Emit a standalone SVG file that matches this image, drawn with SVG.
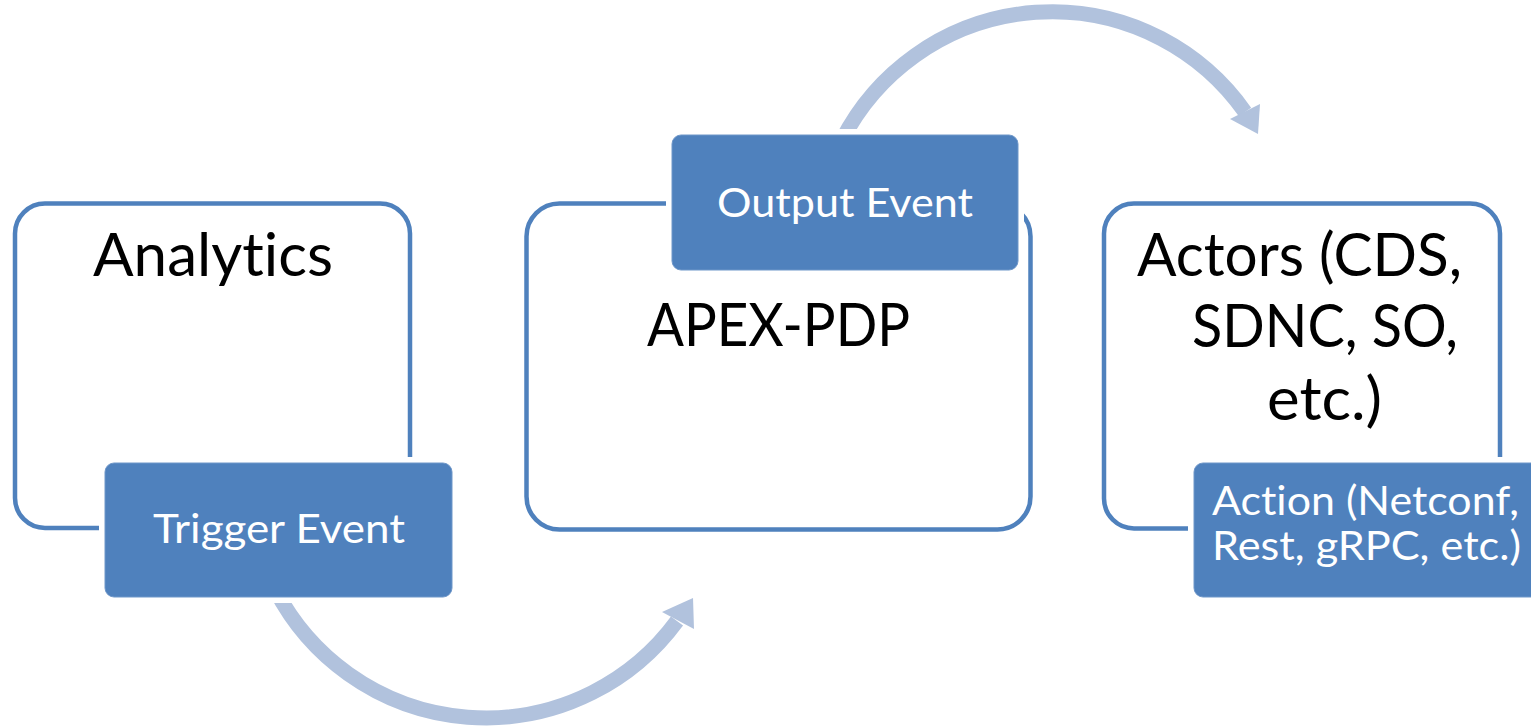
<svg xmlns="http://www.w3.org/2000/svg" width="1531" height="727" viewBox="0 0 1531 727">
<style>
.frame{fill:#ffffff;stroke:#4f81bd;stroke-width:4.5}
.tag{fill:#4f81bd;stroke:#6f97c9;stroke-width:1}
.halo{fill:#ffffff}
text{font-variant-ligatures:none;font-feature-settings:"liga" 0,"clig" 0}
.big{font-family:Lato,"Liberation Sans",sans-serif;font-size:60px;fill:#000000}
.small{font-family:Lato,"Liberation Sans",sans-serif;font-size:40px;fill:#ffffff}
.band{fill:none;stroke:#b1c2dd;stroke-width:15}
.head{fill:#b1c2dd}
</style>
<rect width="1531" height="727" fill="#ffffff"/>
<g id="connectors">
<path class="band" d="M 275.5 590 A 237 237 0 0 0 677 621"/>
<polygon class="head" points="662,612 693,598 694,629"/>
<path class="band" d="M 842 140 A 236 236 0 0 1 1245 112"/>
<polygon class="head" points="1230,119 1260,104 1258,134"/>
</g>
<g id="analytics">
<rect class="frame" x="15" y="203.5" width="395" height="324.5" rx="30"/>
<text class="big" x="93" y="276" textLength="240" lengthAdjust="spacingAndGlyphs">Analytics</text>
</g>
<g id="trigger-event">
<rect class="halo" x="99" y="457" width="359" height="146" rx="12"/>
<rect class="tag" x="105" y="463" width="347" height="134" rx="9"/>
<text class="small" x="153" y="543" textLength="252" lengthAdjust="spacingAndGlyphs">Trigger Event</text>
</g>
<g id="apex-pdp">
<rect class="frame" x="526.5" y="203.5" width="504" height="326" rx="33"/>
<text class="big" x="647" y="346" textLength="263" lengthAdjust="spacingAndGlyphs">APEX-PDP</text>
</g>
<g id="output-event">
<rect class="halo" x="666" y="129" width="358" height="147" rx="12"/>
<rect class="tag" x="672" y="135" width="346" height="135" rx="9"/>
<text class="small" x="717" y="217" textLength="256" lengthAdjust="spacingAndGlyphs">Output Event</text>
</g>
<g id="actors">
<rect class="frame" x="1104" y="203.5" width="396" height="325" rx="30"/>
<text class="big" x="1137" y="276" textLength="325" lengthAdjust="spacingAndGlyphs">Actors (CDS,</text>
<text class="big" x="1192" y="347" textLength="266" lengthAdjust="spacingAndGlyphs">SDNC, SO,</text>
<text class="big" x="1267" y="420" textLength="115" lengthAdjust="spacingAndGlyphs">etc.)</text>
</g>
<g id="action">
<rect class="halo" x="1188" y="457" width="360" height="146" rx="12"/>
<rect class="tag" x="1194" y="463" width="346" height="134" rx="9"/>
<text class="small" x="1212" y="515" textLength="307" lengthAdjust="spacingAndGlyphs">Action (Netconf,</text>
<text class="small" x="1212" y="560" textLength="309" lengthAdjust="spacingAndGlyphs">Rest, gRPC, etc.)</text>
</g>
</svg>
